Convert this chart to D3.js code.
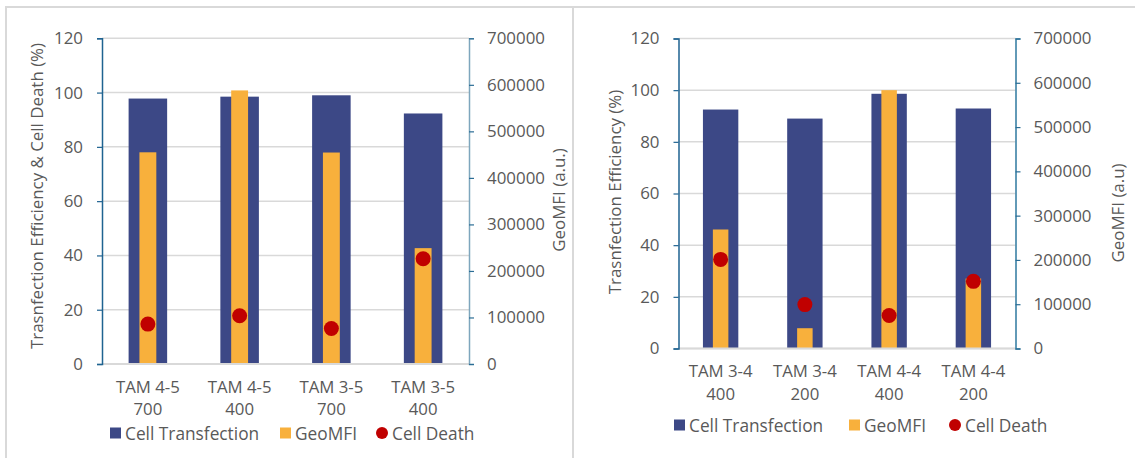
<!DOCTYPE html>
<html>
<head>
<meta charset="utf-8">
<script src="https://cdn.jsdelivr.net/npm/d3@7"></script>
<style>
  html, body { margin: 0; padding: 0; background: #fff; }
  svg { display: block; }
  text { font-family: "Open Sans", sans-serif; fill: #595959; }
</style>
</head>
<body>
<svg id="chart" width="1135" height="458"></svg>
<script>
// ---- Data ----
const leftCategories = [["TAM 4-5", "700"], ["TAM 4-5", "400"], ["TAM 3-5", "700"], ["TAM 3-5", "400"]];
const leftTransfection = [97.8, 98.5, 99.0, 92.3];
const leftGeoMFI = [455000, 588000, 454500, 249000];
const leftCellDeath = [14.7, 17.8, 13.1, 38.8];

const rightCategories = [["TAM 3-4", "400"], ["TAM 3-4", "200"], ["TAM 4-4", "400"], ["TAM 4-4", "200"]];
const rightTransfection = [92.5, 89.0, 98.6, 92.9];
const rightGeoMFI = [268700, 45800, 583300, 158000];
const rightCellDeath = [34.5, 17.0, 12.8, 26.0];

const leftTicks = [0, 20, 40, 60, 80, 100, 120];
const rightTicks = [0, 100000, 200000, 300000, 400000, 500000, 600000, 700000];
const legendLabels = ["Cell Transfection", "GeoMFI", "Cell Death"];

const COLORS = { blue: "#3C4886", orange: "#F8B03C", red: "#C00000", grid: "#D9D9D9" };
const FS = { tick: "16.9px", cat: "16.8px", title: "16.9px", legend: "17.3px" };

const svg = d3.select("#chart");

// panel borders
svg.append("rect").attr("x", 6).attr("y", 7).attr("width", 567).attr("height", 470)
  .attr("fill", "none").attr("stroke", "#D9D9D9").attr("stroke-width", 2);
svg.append("rect").attr("x", 573).attr("y", 7).attr("width", 580).attr("height", 470)
  .attr("fill", "none").attr("stroke", "#D9D9D9").attr("stroke-width", 2);

function drawChart(cfg) {
  const g = svg.append("g");
  const y = d3.scaleLinear().domain([0, 120]).range([cfg.bottom, cfg.top]);
  const y2 = d3.scaleLinear().domain([0, 700000]).range([cfg.bottom, cfg.top]);
  const x = d3.scaleBand().domain(d3.range(cfg.cats.length)).range([cfg.left, cfg.right]).padding(0);
  const bw = x.bandwidth();

  // gridlines
  g.append("g").selectAll("line").data(leftTicks).join("line")
    .attr("x1", cfg.left).attr("x2", cfg.right)
    .attr("y1", d => y(d)).attr("y2", d => y(d))
    .attr("stroke", COLORS.grid).attr("stroke-width", 1.5);

  // bars: transfection
  g.append("g").selectAll("rect").data(cfg.trans).join("rect")
    .attr("x", (d, i) => x(i) + bw / 2 - bw * 0.21)
    .attr("width", bw * 0.42)
    .attr("y", d => y(d)).attr("height", d => y(0) - y(d))
    .attr("fill", COLORS.blue);

  // bars: GeoMFI
  g.append("g").selectAll("rect").data(cfg.geo).join("rect")
    .attr("x", (d, i) => x(i) + bw / 2 - bw * 0.092)
    .attr("width", bw * 0.184)
    .attr("y", d => y2(d)).attr("height", d => y2(0) - y2(d))
    .attr("fill", COLORS.orange);

  // dots: cell death
  g.append("g").selectAll("circle").data(cfg.death).join("circle")
    .attr("cx", (d, i) => x(i) + bw / 2)
    .attr("cy", d => y(d)).attr("r", 7.5)
    .attr("fill", COLORS.red);

  // baseline
  g.append("line").attr("x1", cfg.left).attr("x2", cfg.right)
    .attr("y1", y(0)).attr("y2", y(0)).attr("stroke", COLORS.grid).attr("stroke-width", 2);

  // left axis
  const la = g.append("g").attr("transform", `translate(${cfg.left},0)`)
    .call(d3.axisLeft(y).tickValues(leftTicks).tickSize(5).tickPadding(14));
  la.select(".domain").attr("stroke", "#1F6391").attr("stroke-width", 1.5);
  la.selectAll(".tick line").attr("stroke", "#1F6391").attr("stroke-width", 1.2);
  la.selectAll("text").style("font-size", FS.tick).attr("fill", "#595959").style("font-family", "'Open Sans', sans-serif");

  // right axis
  const ra = g.append("g").attr("transform", `translate(${cfg.right},0)`)
    .call(d3.axisRight(y2).tickValues(rightTicks).tickSize(5).tickPadding(13).tickFormat(d3.format("d")));
  ra.select(".domain").attr("stroke", cfg.rightAxisColor).attr("stroke-width", 1.5);
  ra.selectAll(".tick line").attr("stroke", "#2B6D95").attr("stroke-width", 1.2);
  ra.selectAll("text").style("font-size", FS.tick).attr("fill", "#595959").style("font-family", "'Open Sans', sans-serif");

  // category labels
  const cl = g.append("g").selectAll("text").data(cfg.cats).join("text")
    .attr("text-anchor", "middle").style("font-size", FS.cat);
  cl.append("tspan").attr("x", (d, i) => x(i) + bw / 2).attr("y", y(0) + 28.5).text(d => d[0]);
  cl.append("tspan").attr("x", (d, i) => x(i) + bw / 2).attr("y", y(0) + 51).text(d => d[1]);

  // axis titles
  g.append("text").attr("transform", `translate(${cfg.ltX},${cfg.ltY}) rotate(-90)`)
    .attr("text-anchor", "middle").attr("dominant-baseline", "central")
    .style("font-size", FS.title).text(cfg.leftTitle);
  g.append("text").attr("transform", `translate(${cfg.rtX},${cfg.rtY}) rotate(-90)`)
    .attr("text-anchor", "middle").attr("dominant-baseline", "central")
    .style("font-size", FS.title).text(cfg.rightTitle);

  // legend
  const lg = g.append("g");
  const L = cfg.legend;
  lg.append("rect").attr("x", L[0]).attr("y", cfg.legY - 5.5).attr("width", 11).attr("height", 11).attr("fill", COLORS.blue);
  lg.append("text").attr("x", L[0] + 15).attr("y", cfg.legY).attr("dominant-baseline", "central").style("font-size", FS.legend).text(legendLabels[0]);
  lg.append("rect").attr("x", L[1]).attr("y", cfg.legY - 5.5).attr("width", 11).attr("height", 11).attr("fill", COLORS.orange);
  lg.append("text").attr("x", L[1] + 15).attr("y", cfg.legY).attr("dominant-baseline", "central").style("font-size", FS.legend).text(legendLabels[1]);
  lg.append("circle").attr("cx", L[2]).attr("cy", cfg.legY).attr("r", 6).attr("fill", COLORS.red);
  lg.append("text").attr("x", L[2] + 10).attr("y", cfg.legY).attr("dominant-baseline", "central").style("font-size", FS.legend).text(legendLabels[2]);
}

drawChart({
  cats: leftCategories, trans: leftTransfection, geo: leftGeoMFI, death: leftCellDeath,
  left: 102, right: 469, top: 38.3, bottom: 364,
  rightAxisColor: "#7EA6BD",
  leftTitle: "Trasnfection Efficiency & Cell Death (%)", ltX: 36, ltY: 196,
  rightTitle: "GeoMFI (a.u.)", rtX: 558, rtY: 200,
  legend: [110, 280, 382], legY: 433
});

drawChart({
  cats: rightCategories, trans: rightTransfection, geo: rightGeoMFI, death: rightCellDeath,
  left: 678.5, right: 1015.5, top: 38.5, bottom: 348.5,
  rightAxisColor: "#2F79A0",
  leftTitle: "Trasnfection Efficiency (%)", ltX: 614, ltY: 192,
  rightTitle: "GeoMFI (a.u)", rtX: 1117, rtY: 213,
  legend: [674, 849, 955], legY: 425
});
</script>
</body>
</html>
